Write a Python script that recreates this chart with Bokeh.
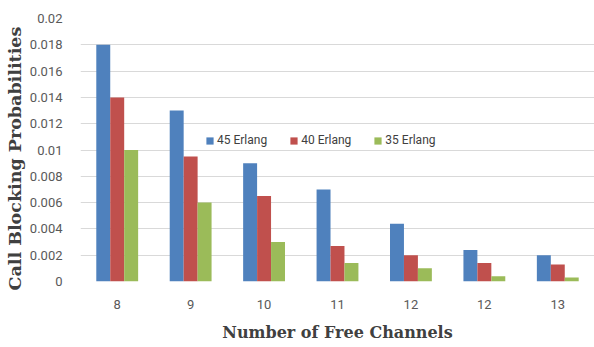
from bokeh.plotting import figure
from bokeh.models import ColumnDataSource, FixedTicker, Range1d, Legend, LegendItem, Title
from bokeh.transform import dodge
from bokeh.embed import file_html
from bokeh.resources import INLINE

categories = ["8", "9", "10", "11", "12", "12", "13"]
erlang45 = [0.018, 0.013, 0.009, 0.007, 0.0044, 0.0024, 0.002]
erlang40 = [0.014, 0.0095, 0.0065, 0.0027, 0.002, 0.0014, 0.0013]
erlang35 = [0.010, 0.006, 0.003, 0.0014, 0.001, 0.0004, 0.0003]
y_ticks = [0, 0.002, 0.004, 0.006, 0.008, 0.01, 0.012, 0.014, 0.016, 0.018, 0.02]

idx = list(range(len(categories)))
src = ColumnDataSource(dict(x=idx, a=erlang45, b=erlang40, c=erlang35))

p = figure(width=594, height=347, output_backend="svg", toolbar_location=None,
           x_range=Range1d(-0.5, len(categories) - 0.5), y_range=Range1d(0, 0.02),
           min_border_left=80, min_border_right=0, min_border_top=18, min_border_bottom=66)
p.outline_line_color = None
p.background_fill_color = "white"
p.border_fill_color = "white"

w = 0.19
colors = ["#4f81bd", "#c0504d", "#9bbb59"]
r1 = p.vbar(x=dodge("x", -w, range=p.x_range), top="a", width=w, source=src, fill_color=colors[0], line_color=None)
r2 = p.vbar(x=dodge("x", 0, range=p.x_range), top="b", width=w, source=src, fill_color=colors[1], line_color=None)
r3 = p.vbar(x=dodge("x", w, range=p.x_range), top="c", width=w, source=src, fill_color=colors[2], line_color=None)

p.xaxis.ticker = FixedTicker(ticks=idx)
p.xaxis.major_label_overrides = {i: c for i, c in zip(idx, categories)}
p.yaxis.ticker = FixedTicker(ticks=y_ticks)
p.yaxis.major_label_overrides = {t: ("0" if t == 0 else f"{t:g}") for t in y_ticks}

for ax in (p.xaxis[0], p.yaxis[0]):
    ax.axis_line_color = None
    ax.major_tick_line_color = None
    ax.minor_tick_line_color = None
    ax.major_label_text_font = "Roboto"
    ax.major_label_text_font_size = "13px"
    ax.major_label_text_color = "#595959"
    ax.axis_label_text_font = "DejaVu Serif"
    ax.axis_label_text_font_style = "bold"
    ax.axis_label_text_font_size = "16px"
    ax.axis_label_text_color = "#404040"

p.xaxis.axis_label = "Number of Free Channels"
p.xaxis.major_label_standoff = 12
p.yaxis.major_label_standoff = 12
p.xaxis.axis_label_standoff = 11

ytitle = Title(text="Call Blocking Probabilities", align="left", offset=-9,
               text_font="DejaVu Serif", text_font_style="bold", text_font_size="17.5px",
               text_color="#404040", standoff=4)
p.add_layout(ytitle, "left")

p.xgrid.grid_line_color = None
p.ygrid.grid_line_color = "#d9d9d9"
p.ygrid.grid_line_width = 1

legend = Legend(items=[LegendItem(label="45 Erlang", renderers=[r1]),
                       LegendItem(label="40 Erlang", renderers=[r2]),
                       LegendItem(label="35 Erlang", renderers=[r3])],
                orientation="horizontal", location=(125, 134),
                padding=0, margin=0, spacing=22, glyph_width=9, glyph_height=9,
                label_standoff=3, label_height=14,
                label_text_font="Roboto", label_text_font_size="12px",
                label_text_color="#404040", background_fill_alpha=0, border_line_color=None)
p.add_layout(legend, "center")

open("out.html", "w").write(file_html(p, INLINE))
